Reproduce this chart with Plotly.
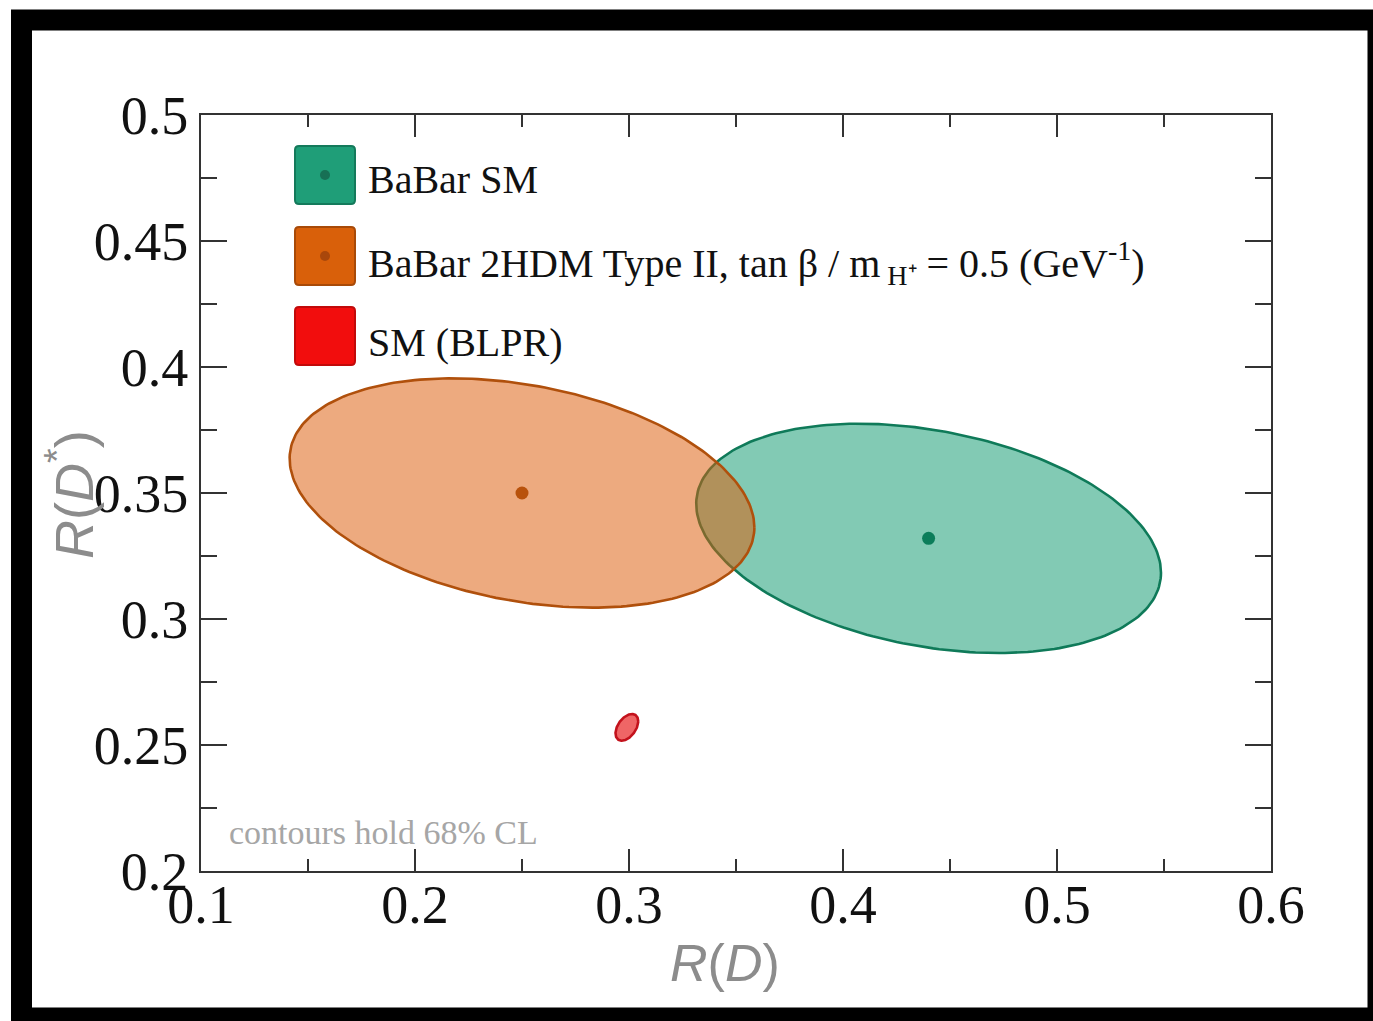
import numpy as np
import plotly.graph_objects as go

# ---- data -------------------------------------------------------------
series_names = ["BaBar SM", "BaBar 2HDM Type II", "SM (BLPR)"]
center_rd = [0.440, 0.250, 0.299]      # R(D)
center_rds = [0.332, 0.350, 0.257]     # R(D*)
sigma_rd = [0.0716, 0.0716, 0.0035]
sigma_rds = [0.030, 0.030, 0.0035]
correlation = [-0.30, -0.30, 0.45]
show_center = [True, True, False]

x_tick_vals = [0.1, 0.2, 0.3, 0.4, 0.5, 0.6]
x_tick_text = ["0.1", "0.2", "0.3", "0.4", "0.5", "0.6"]
y_tick_vals = [0.2, 0.25, 0.3, 0.35, 0.4, 0.45, 0.5]
y_tick_text = ["0.2", "0.25", "0.3", "0.35", "0.4", "0.45", "0.5"]

# 68% CL for two parameters: delta chi^2 = 2.30
CL_SCALE = np.sqrt(2.30)

# ---- styles -----------------------------------------------------------
fill_colors = ["rgba(27,158,119,0.55)", "rgba(220,92,10,0.52)", "rgba(232,30,30,0.68)"]
edge_colors = ["#0f7a59", "#b0500c", "#c3121c"]
dot_colors = ["#0c7d5a", "#b8520c", "#c3121c"]
legend_fill = ["#1f9e78", "#d9600a", "#f20d0d"]
legend_edge = ["#147a5b", "#a84a08", "#c20a0a"]
legend_dot = ["#177055", "#a9470b", None]

W, H = 1373, 1021
PL, PR, PT, PB = 201, 1271, 115, 871


def px(x):
    return (x - PL) / (PR - PL)


def py(y):
    return (PB - y) / (PB - PT)


def contour(cx, cy, sx, sy, rho, n=240):
    t = np.linspace(0, 2 * np.pi, n)
    x = cx + CL_SCALE * sx * np.cos(t)
    y = cy + CL_SCALE * sy * (rho * np.cos(t) + np.sqrt(1 - rho ** 2) * np.sin(t))
    return x, y


fig = go.Figure()

for i, name in enumerate(series_names):
    ex, ey = contour(center_rd[i], center_rds[i], sigma_rd[i], sigma_rds[i], correlation[i])
    fig.add_trace(go.Scatter(
        x=ex, y=ey, mode="lines", fill="toself", fillcolor=fill_colors[i],
        line=dict(color=edge_colors[i], width=2.6), name=name, showlegend=False,
        hoverinfo="skip"))

for i, name in enumerate(series_names):
    if show_center[i]:
        fig.add_trace(go.Scatter(
            x=[center_rd[i]], y=[center_rds[i]], mode="markers",
            marker=dict(size=13, color=dot_colors[i]), showlegend=False, name=name))

shapes = []
annotations = []

# outer black frame
shapes.append(dict(type="rect", xref="paper", yref="paper",
                   x0=px(21.5), x1=px(1378), y0=py(1018), y1=py(20),
                   line=dict(color="black", width=21), fillcolor="rgba(0,0,0,0)", layer="above"))


def rounded_rect(x0, y0, x1, y1, r):
    pts = (f"M {px(x0 + r)},{py(y0)} L {px(x1 - r)},{py(y0)} "
           f"Q {px(x1)},{py(y0)} {px(x1)},{py(y0 + r)} L {px(x1)},{py(y1 - r)} "
           f"Q {px(x1)},{py(y1)} {px(x1 - r)},{py(y1)} L {px(x0 + r)},{py(y1)} "
           f"Q {px(x0)},{py(y1)} {px(x0)},{py(y1 - r)} L {px(x0)},{py(y0 + r)} "
           f"Q {px(x0)},{py(y0)} {px(x0 + r)},{py(y0)} Z")
    return pts


legend_labels = [
    "BaBar SM",
    "BaBar 2HDM Type II, tan β / m<sub> H⁺</sub> = 0.5 (GeV<sup>-1</sup>)",
    "SM (BLPR)",
]
legend_centers = [175, 256, 336]
legend_text_y = [180, 263, 342]
for i, cyp in enumerate(legend_centers):
    shapes.append(dict(type="path", xref="paper", yref="paper",
                       path=rounded_rect(295, cyp - 29, 355, cyp + 29, 4),
                       fillcolor=legend_fill[i], line=dict(color=legend_edge[i], width=2),
                       layer="above"))
    if legend_dot[i]:
        shapes.append(dict(type="circle", xref="paper", yref="paper",
                           x0=px(320), x1=px(330), y0=py(cyp + 5), y1=py(cyp - 5),
                           fillcolor=legend_dot[i], line=dict(width=0), layer="above"))
    annotations.append(dict(xref="paper", yref="paper", x=px(366), y=py(legend_text_y[i]),
                            xanchor="left", yanchor="middle", showarrow=False,
                            text=legend_labels[i],
                            font=dict(family="Liberation Serif", size=40, color="#111")))

annotations.append(dict(xref="paper", yref="paper", x=px(227), y=py(832),
                        xanchor="left", yanchor="middle", showarrow=False,
                        text="contours hold 68% CL",
                        font=dict(family="Liberation Serif", size=34, color="#a6a6a6")))

annotations.append(dict(xref="paper", yref="paper", x=px(725), y=py(963),
                        xanchor="center", yanchor="middle", showarrow=False,
                        text="<i>R</i>(<i>D</i>)",
                        font=dict(family="Liberation Sans", size=52, color="#8c8c8c")))
annotations.append(dict(xref="paper", yref="paper", x=px(70), y=py(495),
                        xanchor="center", yanchor="middle", showarrow=False, textangle=-90,
                        text="<i>R</i>(<i>D</i><sup>*</sup>)",
                        font=dict(family="Liberation Sans", size=54, color="#8c8c8c")))

axis_common = dict(showgrid=False, zeroline=False, showline=True, linecolor="#333",
                   linewidth=2, mirror="ticks", ticks="inside", tickcolor="#333",
                   tickwidth=2, tickfont=dict(family="Liberation Serif", size=54, color="#111"))

fig.update_layout(
    width=W, height=H,
    margin=dict(l=PL, r=W - PR, t=PT, b=H - PB),
    paper_bgcolor="white", plot_bgcolor="white",
    shapes=shapes, annotations=annotations, showlegend=False,
    xaxis=dict(range=[0.1, 0.6], tickvals=x_tick_vals, ticktext=x_tick_text, ticklen=22,
               ticklabelstandoff=-15,
               minor=dict(ticks="inside", dtick=0.05, tick0=0.1, ticklen=12,
                          tickwidth=2, tickcolor="#333"),
               **axis_common),
    yaxis=dict(range=[0.2, 0.5], tickvals=y_tick_vals, ticktext=y_tick_text, ticklen=26,
               minor=dict(ticks="inside", dtick=0.025, tick0=0.2, ticklen=16,
                          tickwidth=2, tickcolor="#333"),
               **axis_common),
)

fig.write_html("out.html")
